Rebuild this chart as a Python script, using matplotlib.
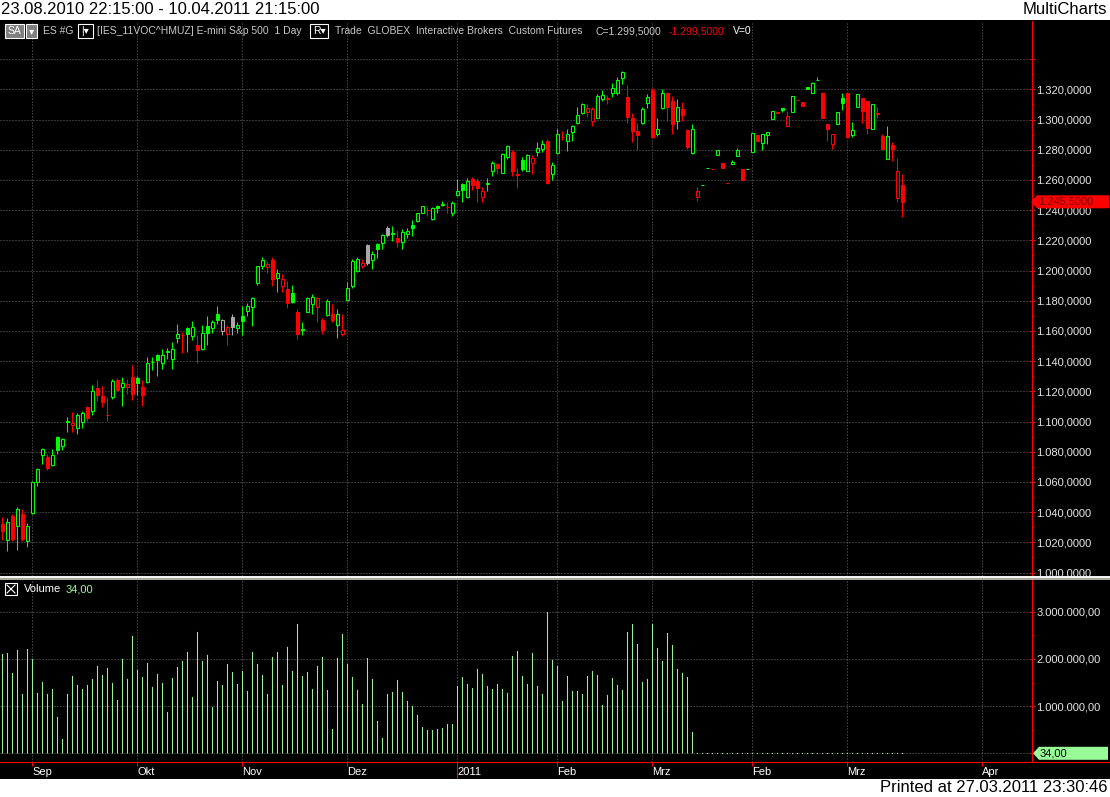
import numpy as np
import matplotlib
matplotlib.use('Agg')
import matplotlib.pyplot as plt
import matplotlib.transforms as mtransforms
from matplotlib.patches import Rectangle, Polygon
from matplotlib.lines import Line2D
from matplotlib.ticker import FixedLocator, FuncFormatter

plt.rcParams['font.family'] = ['Liberation Sans', 'DejaVu Sans']

# ---- data (ES daily bars, price in index points) ----
opens = [1032.2, 1021.6, 1037.1, 1031.1, 1038.9, 1020.9, 1039.3, 1059.8, 1077.8, 1076.7,
         1070.9, 1089.6, 1083.8, 1100.5, 1097.8, 1095.8, 1100.0, 1109.3, 1107.1, 1122.0,
         1116.7, 1104.2, 1116.4, 1127.3, 1123.1, 1123.1, 1129.6, 1128.7, 1122.7, 1126.4,
         1139.6, 1144.2, 1138.9, 1146.0, 1141.6, 1155.3, 1157.3, 1162.2, 1156.4, 1150.9,
         1148.2, 1163.3, 1162.0, 1170.9, 1160.0, 1157.8, 1169.3, 1162.0, 1170.0, 1173.1,
         1176.0, 1192.0, 1202.7, 1202.2, 1207.1, 1194.9, 1189.8, 1187.6, 1184.9, 1172.2,
         1161.3, 1172.7, 1177.8, 1175.6, 1167.1, 1170.4, 1170.9, 1163.8, 1158.2, 1180.4,
         1189.5, 1199.5, 1202.9, 1216.9, 1206.9, 1217.3, 1218.4, 1228.4, 1225.1, 1221.8,
         1219.1, 1224.0, 1230.2, 1232.9, 1238.4, 1240.2, 1234.4, 1243.0, 1243.1, 1242.2,
         1238.4, 1250.2, 1257.3, 1248.9, 1260.7, 1259.6, 1248.9, 1258.0, 1265.8, 1270.2,
         1264.9, 1275.1, 1278.2, 1263.8, 1272.9, 1266.2, 1271.1, 1278.4, 1280.2, 1285.6,
         1263.6, 1277.8, 1288.7, 1285.6, 1291.8, 1297.8, 1304.4, 1305.1, 1299.1, 1301.3,
         1313.3, 1314.4, 1317.8, 1317.8, 1327.3, 1314.7, 1301.3, 1292.2, 1297.8, 1311.1,
         1319.6, 1290.2, 1307.3, 1317.3, 1312.2, 1299.1, 1306.7, 1293.3, 1277.8, 1248.4,
         1256.6, 1267.9, 1267.5, 1276.7, 1271.3, 1258.2, 1270.7, 1275.8, 1266.9, 1267.2,
         1278.4, 1289.6, 1284.4, 1289.8, 1300.2, 1304.7, 1307.8, 1295.8, 1305.1, 1312.9,
         1311.6, 1321.3, 1317.3, 1326.0, 1317.8, 1297.3, 1284.0, 1297.3, 1314.2, 1317.8,
         1289.6, 1308.4, 1314.4, 1312.2, 1294.0, 1304.0, 1288.9, 1273.8, 1282.9, 1247.8, 1256.9]
highs = [1036.7, 1036.0, 1038.9, 1043.1, 1042.2, 1032.7, 1060.4, 1069.3, 1082.7, 1078.2,
         1081.6, 1090.4, 1089.3, 1102.7, 1106.0, 1105.6, 1107.1, 1110.0, 1124.2, 1127.6,
         1123.6, 1116.0, 1128.2, 1128.7, 1129.3, 1128.2, 1137.6, 1130.4, 1127.6, 1142.7,
         1142.7, 1144.9, 1148.2, 1148.7, 1152.7, 1164.9, 1159.3, 1162.7, 1166.4, 1157.6,
         1164.2, 1170.0, 1167.1, 1176.7, 1167.6, 1164.2, 1170.9, 1166.0, 1176.7, 1178.2,
         1182.7, 1203.3, 1208.7, 1206.0, 1208.7, 1201.1, 1197.6, 1193.1, 1190.4, 1174.4,
         1166.0, 1182.7, 1184.2, 1182.7, 1168.7, 1181.1, 1177.6, 1174.2, 1170.9, 1192.7,
         1207.5, 1208.8, 1207.3, 1217.8, 1212.9, 1218.4, 1224.4, 1229.6, 1229.6, 1226.7,
         1227.3, 1228.0, 1233.3, 1238.4, 1242.9, 1241.8, 1241.8, 1243.6, 1246.2, 1245.1,
         1245.8, 1260.7, 1257.8, 1261.3, 1262.2, 1261.3, 1255.6, 1261.3, 1272.2, 1271.1,
         1277.8, 1283.3, 1279.6, 1268.0, 1275.1, 1277.3, 1276.2, 1285.1, 1286.2, 1287.3,
         1271.8, 1294.0, 1292.2, 1293.6, 1296.2, 1308.0, 1310.7, 1310.2, 1308.4, 1316.9,
         1319.6, 1316.2, 1324.0, 1328.0, 1331.8, 1322.9, 1304.0, 1297.8, 1308.0, 1316.9,
         1320.7, 1301.3, 1320.0, 1318.4, 1315.6, 1313.3, 1311.6, 1294.0, 1296.9, 1255.1,
         1256.7, 1268.0, 1267.5, 1280.0, 1271.3, 1258.2, 1272.9, 1281.3, 1266.9, 1267.3,
         1291.3, 1289.6, 1290.7, 1292.0, 1305.3, 1304.7, 1307.8, 1305.8, 1315.6, 1312.9,
         1311.6, 1321.3, 1324.7, 1328.0, 1318.2, 1297.3, 1290.7, 1304.7, 1317.8, 1317.8,
         1298.4, 1316.9, 1314.4, 1312.2, 1310.2, 1308.0, 1290.7, 1295.6, 1285.1, 1274.4, 1263.6]
lows = [1021.6, 1014.4, 1020.9, 1014.9, 1020.9, 1017.1, 1038.9, 1057.1, 1071.6, 1067.8,
        1070.4, 1078.4, 1080.9, 1093.3, 1093.1, 1091.6, 1095.6, 1100.4, 1104.4, 1113.3,
        1109.8, 1100.4, 1114.9, 1120.4, 1110.4, 1118.2, 1114.4, 1117.8, 1110.4, 1125.3,
        1134.4, 1130.4, 1134.9, 1141.1, 1134.9, 1152.2, 1145.6, 1146.0, 1153.8, 1138.9,
        1147.6, 1150.4, 1158.9, 1164.9, 1157.6, 1150.9, 1157.1, 1158.9, 1157.1, 1170.0,
        1163.3, 1190.4, 1201.1, 1198.2, 1190.0, 1186.0, 1186.0, 1175.3, 1178.2, 1154.4,
        1157.1, 1172.2, 1170.9, 1165.6, 1158.2, 1170.0, 1166.0, 1155.6, 1156.4, 1179.8,
        1188.5, 1199.0, 1201.8, 1203.6, 1200.7, 1208.4, 1214.4, 1222.2, 1219.6, 1215.6,
        1214.4, 1221.8, 1222.9, 1232.2, 1237.8, 1236.2, 1233.6, 1238.4, 1242.4, 1238.4,
        1236.2, 1249.6, 1245.1, 1247.8, 1253.6, 1245.1, 1245.1, 1252.4, 1262.9, 1263.6,
        1264.4, 1274.0, 1262.4, 1254.4, 1265.6, 1265.8, 1264.0, 1275.6, 1278.4, 1257.3,
        1260.2, 1276.9, 1286.2, 1279.1, 1285.6, 1297.3, 1303.6, 1301.8, 1295.6, 1300.7,
        1312.4, 1310.0, 1315.1, 1316.2, 1323.6, 1297.8, 1285.1, 1280.0, 1296.9, 1307.3,
        1288.0, 1288.9, 1306.7, 1299.1, 1290.7, 1293.6, 1299.1, 1280.7, 1277.3, 1245.8,
        1256.6, 1267.9, 1267.3, 1276.7, 1267.8, 1258.0, 1270.7, 1275.8, 1260.2, 1267.2,
        1278.4, 1285.8, 1279.6, 1283.6, 1300.2, 1304.4, 1305.1, 1295.8, 1305.1, 1312.7,
        1309.1, 1320.2, 1317.3, 1326.0, 1301.1, 1285.8, 1280.2, 1297.3, 1306.2, 1288.4,
        1288.4, 1308.4, 1297.8, 1290.7, 1294.0, 1300.7, 1280.4, 1273.8, 1272.4, 1245.1, 1235.1]
closes = [1027.8, 1033.3, 1022.2, 1042.2, 1022.2, 1030.9, 1060.0, 1068.7, 1082.0, 1068.9,
          1077.8, 1081.1, 1088.2, 1100.0, 1099.3, 1104.4, 1105.6, 1102.2, 1120.0, 1117.8,
          1112.9, 1104.0, 1126.7, 1120.9, 1125.3, 1124.9, 1118.2, 1125.8, 1117.8, 1138.7,
          1139.1, 1140.4, 1144.2, 1146.7, 1148.2, 1158.2, 1157.0, 1158.2, 1162.7, 1147.6,
          1158.7, 1158.9, 1165.6, 1167.1, 1167.1, 1162.7, 1162.7, 1164.2, 1166.4, 1176.7,
          1182.0, 1202.7, 1206.7, 1204.2, 1194.4, 1198.2, 1194.4, 1178.2, 1179.3, 1158.2,
          1160.9, 1182.0, 1182.4, 1181.6, 1160.9, 1180.0, 1167.1, 1170.9, 1160.9, 1188.7,
          1206.5, 1207.5, 1205.1, 1205.1, 1211.1, 1214.4, 1223.6, 1223.6, 1224.0, 1218.9,
          1225.6, 1226.2, 1228.4, 1238.0, 1242.4, 1240.0, 1241.3, 1241.6, 1243.8, 1241.8,
          1244.7, 1252.7, 1253.3, 1259.6, 1256.9, 1254.4, 1252.9, 1257.3, 1271.3, 1268.0,
          1277.3, 1282.7, 1266.2, 1263.3, 1266.9, 1276.7, 1274.7, 1281.3, 1283.6, 1257.8,
          1270.0, 1290.2, 1288.2, 1290.7, 1295.6, 1303.3, 1310.0, 1307.8, 1306.7, 1315.6,
          1316.0, 1313.8, 1320.7, 1326.2, 1331.3, 1301.8, 1292.4, 1289.6, 1306.7, 1314.7,
          1288.4, 1294.0, 1317.3, 1308.0, 1296.7, 1308.0, 1303.3, 1281.8, 1294.0, 1252.9,
          1256.7, 1268.0, 1267.3, 1280.0, 1267.8, 1258.0, 1271.6, 1279.6, 1260.2, 1267.3,
          1291.3, 1285.8, 1290.7, 1292.0, 1305.3, 1304.4, 1306.4, 1302.2, 1315.6, 1312.7,
          1309.1, 1320.2, 1324.0, 1326.2, 1301.1, 1293.6, 1290.7, 1304.7, 1311.1, 1288.4,
          1292.9, 1316.9, 1305.8, 1294.7, 1310.2, 1303.8, 1280.4, 1289.3, 1280.2, 1266.2, 1245.5]
prev_close_first = 1031.0   # close of the bar before the first one shown

# volume in millions of contracts (bars after the roll carry only 34 contracts)
volume_m = [2.10, 2.12, 1.70, 2.18, 1.25, 2.20, 1.99, 1.27, 1.51, 1.25,
            1.36, 0.77, 0.30, 1.25, 1.63, 1.44, 1.36, 1.44, 1.57, 1.85,
            1.65, 1.80, 1.49, 1.13, 1.99, 1.57, 2.48, 1.76, 1.61, 1.91,
            1.40, 1.68, 1.49, 0.87, 1.59, 1.82, 1.95, 2.14, 1.19, 2.56,
            1.95, 2.08, 0.98, 1.53, 1.44, 1.89, 1.72, 1.46, 1.74, 1.32,
            2.14, 1.89, 1.65, 1.25, 2.04, 2.14, 1.44, 2.25, 1.74, 2.75,
            1.63, 1.72, 1.36, 1.85, 2.04, 1.34, 0.51, 2.01, 2.52, 1.89,
            1.61, 1.34, 1.04, 2.01, 1.57, 0.68, 0.32, 1.25, 1.30, 1.55,
            1.30, 1.11, 1.00, 0.81, 0.56, 0.49, 0.49, 0.51, 0.54, 0.62,
            0.62, 1.42, 1.61, 1.46, 1.38, 1.78, 1.68, 1.42, 1.36, 1.46,
            1.36, 1.27, 2.06, 2.16, 1.63, 1.46, 2.12, 1.42, 1.25, 2.99,
            1.97, 1.85, 1.11, 1.63, 1.32, 1.32, 1.25, 1.63, 1.74, 1.65,
            1.02, 1.23, 1.59, 1.44, 1.34, 2.58, 2.73, 2.31, 1.51, 1.57,
            2.73, 2.23, 1.95, 2.54, 2.29, 1.78, 1.70, 1.61, 0.45]
flat_volume = 34
last_volume = 34

month_idx = [6, 27, 48, 69, 91, 111, 130, 150, 169, 196]
month_labels = ['Sep', 'Okt', 'Nov', 'Dez', '2011', 'Feb', 'Mrz', 'Feb', 'Mrz', 'Apr']
year_idx = 91

price_ticks = np.arange(1000, 1341, 20)
price_label_max = 1320
vol_ticks = [0, 1e6, 2e6, 3e6]

o = np.array(opens); h = np.array(highs); l = np.array(lows); c = np.array(closes)
n = len(c)
x = np.arange(n)
vol = np.concatenate([np.array(volume_m) * 1e6, np.full(n - len(volume_m), flat_volume)])

prev = np.concatenate([[prev_close_first], c[:-1]])
cols = np.where(np.isclose(c, prev), '#a8a8a8', np.where(c > prev, '#00ff00', '#ff0000'))
faces = np.where(c > o, 'black', cols)

# ---- figure layout in pixels ----
W, H = 1110, 797
fig = plt.figure(figsize=(W / 100, H / 100), dpi=100, facecolor='white')

def fx(px):
    return px / W

def fy(py):
    return 1 - py / H

def px_rect(x0, y0, x1, y1, **kw):
    r = Rectangle((fx(x0), fy(y1)), (x1 - x0) / W, (y1 - y0) / H,
                  transform=fig.transFigure, **kw)
    fig.add_artist(r)
    return r

px_rect(0, 20, W, 779, facecolor='black', edgecolor='none', zorder=0)

PPX = 1.51          # pixels per index point
VPM = 47.2          # pixels per million contracts
ax_p = fig.add_axes([0, fy(576), fx(1031.5), (576 - 21) / H])
ax_v = fig.add_axes([0, fy(761.5), fx(1031.5), (761.5 - 581) / H])

xl = (-0.46, (1031.5 - 2.3) / 5)
for ax in (ax_p, ax_v):
    ax.set_facecolor('black')
    ax.set_xlim(xl)
    for s in ax.spines.values():
        s.set_visible(False)
    ax.set_xticks(month_idx)
    ax.yaxis.tick_right()
    ax.tick_params(axis='y', which='major', direction='inout', length=3.6, width=0.72,
                   color='#ff0000', labelcolor='#e6e6e6', labelsize=8, pad=1.5)
    ax.tick_params(axis='y', which='minor', direction='out', length=1.6, width=0.72,
                   color='#ff0000')
    ax.grid(True, which='major', color='#6a6a6a', linestyle=(0, (1, 2)), linewidth=0.72)
    ax.set_axisbelow(True)

def de_num(v, d):
    return f'{v:,.{d}f}'.replace(',', '#').replace('.', ',').replace('#', '.')

# price panel
ax_p.set_ylim(1000 - 3.5 / PPX, 1000 + 551.5 / PPX)
ax_p.yaxis.set_major_locator(FixedLocator(price_ticks))
ax_p.yaxis.set_minor_locator(FixedLocator(price_ticks[:-1] + 10))
ax_p.yaxis.set_major_formatter(FuncFormatter(
    lambda v, p: de_num(v, 4) if v <= price_label_max else ''))
ax_p.tick_params(axis='x', length=0, labelbottom=False)

ax_p.vlines(x, l, h, colors=cols, linewidth=0.75, zorder=2)
ax_p.bar(x, np.abs(c - o), bottom=np.minimum(o, c), width=0.62, color=faces,
         edgecolor=cols, linewidth=0.75, zorder=3)

# volume panel
ax_v.set_ylim(-8.2 / VPM * 1e6, 172.3 / VPM * 1e6)
ax_v.yaxis.set_major_locator(FixedLocator(vol_ticks))
ax_v.yaxis.set_minor_locator(FixedLocator([0.5e6, 1.5e6, 2.5e6]))
ax_v.yaxis.set_major_formatter(FuncFormatter(lambda v, p: '' if v == 0 else de_num(v, 2)))
ax_v.set_xticklabels(month_labels)
ax_v.tick_params(axis='x', direction='out', length=3.2, width=0.72, color='#ff0000',
                 labelcolor='white', labelsize=8, pad=1)
for lbl in ax_v.get_xticklabels():
    lbl.set_ha('left')
ax_v.vlines(x, 0, vol, colors='#98f098', linewidth=0.75, zorder=2)
ax_v.plot(x, vol, ls='none', marker='s', ms=0.8, mew=0, color='#98f098', zorder=2)

yt = mtransforms.blended_transform_factory(ax_v.transData, ax_v.transAxes)
ax_v.plot([year_idx, year_idx], [0, -16 / 180.5], transform=yt, color='#ff0000',
          lw=0.8, clip_on=False)

# red axis lines and panel separator
fig.add_artist(Line2D([0, 1], [fy(761.5)] * 2, color='#ff0000', lw=0.8, transform=fig.transFigure))
fig.add_artist(Line2D([fx(1031.5)] * 2, [fy(761.5), fy(21)], color='#ff0000', lw=0.8,
                      transform=fig.transFigure))
px_rect(0, 575.7, W, 577.6, facecolor='#f4f4f4', edgecolor='none', zorder=5)
px_rect(0, 577.6, W, 579.6, facecolor='#a9a89c', edgecolor='none', zorder=5)

# last value markers on the right scale
tp = mtransforms.blended_transform_factory(fig.transFigure, ax_p.transData)
hp = 6.5 / PPX
lc = c[-1]
ax_p.add_patch(Polygon([(fx(1031), lc), (fx(1037), lc + hp), (fx(1109), lc + hp),
                        (fx(1109), lc - hp), (fx(1037), lc - hp)], closed=True,
                       transform=tp, facecolor='#ff0000', edgecolor='none', clip_on=False, zorder=6))
ax_p.text(fx(1038), lc, de_num(lc, 4), transform=tp, ha='left', va='center', fontsize=8,
          color='#7a0000', clip_on=False, zorder=7)

tv = mtransforms.blended_transform_factory(fig.transFigure, ax_v.transData)
hv = 6.5 / VPM * 1e6
ax_v.add_patch(Polygon([(fx(1033), last_volume), (fx(1039), last_volume + hv), (fx(1108), last_volume + hv),
                        (fx(1108), last_volume - hv), (fx(1039), last_volume - hv)], closed=True,
                       transform=tv, facecolor='#98fb98', edgecolor='none', clip_on=False, zorder=6))
ax_v.text(fx(1040), last_volume, de_num(last_volume, 2), transform=tv, ha='left', va='center',
          fontsize=8, color='black', clip_on=False, zorder=7)

# title strip and footer
fig.text(fx(1), fy(10), '23.08.2010 22:15:00 - 10.04.2011 21:15:00', fontsize=12,
         ha='left', va='center', color='black')
fig.text(fx(1107), fy(10), 'MultiCharts', fontsize=12, ha='right', va='center', color='black')
fig.text(fx(1108), fy(788), 'Printed at 27.03.2011 23:30:46', fontsize=12, ha='right',
         va='center', color='black')

# chart header row
hdr = '#c8c8c8'
px_rect(5, 24, 24, 38, facecolor='#808080', edgecolor='white', linewidth=0.8, zorder=6)
px_rect(26, 24, 37, 38, facecolor='#808080', edgecolor='white', linewidth=0.8, zorder=6)
fig.text(fx(14.5), fy(31), 'SA', fontsize=7.5, color='white', ha='center', va='center', zorder=7)
fig.text(fx(31.5), fy(31), '\u25be', fontsize=7.5, color='white', ha='center', va='center', zorder=7)
fig.text(fx(43), fy(31), 'ES #G', fontsize=7.5, color=hdr, ha='left', va='center')
px_rect(78, 24, 93, 38, facecolor='black', edgecolor='white', linewidth=0.8, zorder=6)
fig.text(fx(85.5), fy(31), '|\u25be', fontsize=7.5, color='white', ha='center', va='center', zorder=7)
fig.text(fx(97), fy(31), '[IES_11VOC^HMUZ] E-mini S&p 500  1 Day', fontsize=7.5, color=hdr,
         ha='left', va='center')
px_rect(310, 24, 328, 38, facecolor='black', edgecolor='white', linewidth=0.8, zorder=6)
fig.text(fx(319), fy(31), 'R\u25be', fontsize=7.5, color='white', ha='center', va='center', zorder=7)
fig.text(fx(335), fy(31), 'Trade  GLOBEX  Interactive Brokers  Custom Futures',
         fontsize=7.5, color=hdr, ha='left', va='center')
fig.text(fx(596), fy(31), 'C=1.299,5000', fontsize=7.5, color=hdr, ha='left', va='center')
fig.text(fx(669), fy(31), '-1.299,5000', fontsize=7.5, color='#ff0000', ha='left', va='center')
fig.text(fx(733), fy(31), 'V=0', fontsize=7.5, color='white', ha='left', va='center')

# volume sub-header
px_rect(5, 583, 17, 595, facecolor='black', edgecolor='white', linewidth=0.8, zorder=6)
fig.add_artist(Line2D([fx(7), fx(15)], [fy(585), fy(593)], color='white', lw=0.8, zorder=7))
fig.add_artist(Line2D([fx(7), fx(15)], [fy(593), fy(585)], color='white', lw=0.8, zorder=7))
fig.text(fx(24), fy(589), 'Volume', fontsize=8, color='white', ha='left', va='center')
fig.text(fx(66), fy(589), de_num(last_volume, 2), fontsize=8, color='#98fb98', ha='left', va='center')

fig.savefig('out.png', dpi=100, facecolor='white')
